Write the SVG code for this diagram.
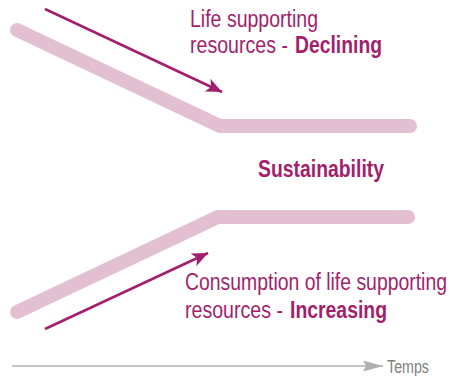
<svg xmlns="http://www.w3.org/2000/svg" width="453" height="376" viewBox="0 0 453 376">
<defs>
<style>
.band{fill:none;stroke:#e2c0d1;stroke-width:14;stroke-linecap:round;stroke-linejoin:miter}
.arr{fill:none;stroke:#a31f6b;stroke-width:2.5}
.axis{fill:none;stroke:#b0b0b0;stroke-width:1.5}
.t{font-family:"Liberation Sans",Arial,sans-serif;font-size:19.5px;fill:#a31f6b}
.b{font-weight:bold}
.tm{font-family:"Liberation Sans",Arial,sans-serif;font-size:15px;fill:#808080}
</style>
<marker id="mh" markerUnits="userSpaceOnUse" markerWidth="18" markerHeight="14" refX="16" refY="7" orient="auto">
<path d="M0,0 L16,7 L0,14 L4,7 Z" fill="#a31f6b"/>
</marker>
<marker id="gh" markerUnits="userSpaceOnUse" markerWidth="21" markerHeight="11" refX="20" refY="5.5" orient="auto">
<path d="M0,0 L20,5.5 L0,11 L3,5.5 Z" fill="#b0b0b0"/>
</marker>
</defs>
<g id="bands">
<path class="band" d="M17,30 L220,126 L410,126"/>
<path class="band" d="M17,312 L218,217 L408,217"/>
</g>
<g id="connectors">
<path class="arr" d="M45,9 L222,92" marker-end="url(#mh)"/>
<path class="arr" d="M45,329 L208,253" marker-end="url(#mh)"/>
<path class="axis" d="M12,366 L383,366" marker-end="url(#gh)"/>
</g>
<g id="label-top">
<text class="t" transform="translate(190,27) scale(1,1.18)" textLength="128" lengthAdjust="spacingAndGlyphs">Life supporting</text>
<text class="t" transform="translate(190,53) scale(1,1.18)" textLength="98" lengthAdjust="spacingAndGlyphs">resources -</text>
<text class="t b" transform="translate(295,53) scale(1,1.18)" textLength="87" lengthAdjust="spacingAndGlyphs">Declining</text>
</g>
<g id="label-sustainability">
<text class="t b" transform="translate(258,177) scale(1,1.18)" textLength="126" lengthAdjust="spacingAndGlyphs">Sustainability</text>
</g>
<g id="label-bottom">
<text class="t" transform="translate(185,290) scale(1,1.18)" textLength="262" lengthAdjust="spacingAndGlyphs">Consumption of life supporting</text>
<text class="t" transform="translate(185,318) scale(1,1.18)" textLength="98" lengthAdjust="spacingAndGlyphs">resources -</text>
<text class="t b" transform="translate(290,318) scale(1,1.18)" textLength="97" lengthAdjust="spacingAndGlyphs">Increasing</text>
</g>
<g id="label-temps">
<text class="tm" transform="translate(387,373) scale(1,1.18)" textLength="42" lengthAdjust="spacingAndGlyphs">Temps</text>
</g>
</svg>
